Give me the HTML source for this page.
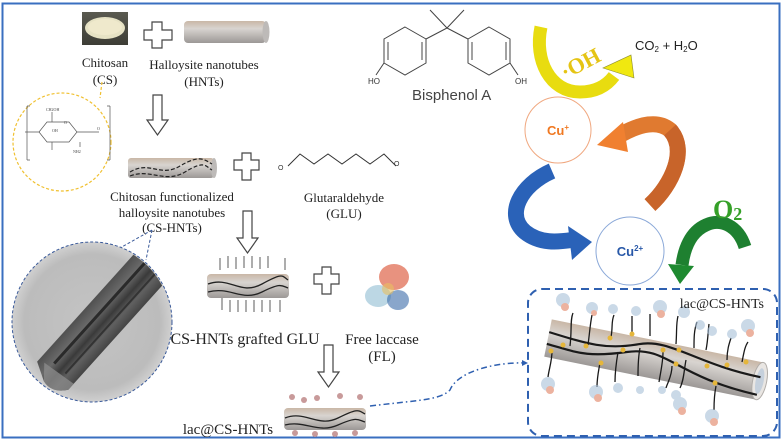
<!DOCTYPE html>
<html><head><meta charset="utf-8"><style>
html,body{margin:0;padding:0;background:#fff;}
svg{display:block;}
.s{font-family:"Liberation Serif",serif;fill:#222;}
.a{font-family:"Liberation Sans",sans-serif;}
</style></head><body>
<svg width="784" height="443" viewBox="0 0 784 443" xmlns="http://www.w3.org/2000/svg">
<defs>
<linearGradient id="tube" x1="0" y1="0" x2="0" y2="1">
<stop offset="0" stop-color="#c9b7a6"/><stop offset="0.35" stop-color="#d8d4d0"/><stop offset="1" stop-color="#9c9896"/></linearGradient>
<radialGradient id="tem" cx="0.5" cy="0.5" r="0.5"><stop offset="0" stop-color="#c4c4c4"/><stop offset="0.85" stop-color="#bcbcbc"/><stop offset="1" stop-color="#d0d0d0"/></radialGradient>
<linearGradient id="rod" x1="0" y1="0" x2="0" y2="1"><stop offset="0" stop-color="#505050"/><stop offset="0.3" stop-color="#6a6a6a"/><stop offset="0.55" stop-color="#3a3a3a"/><stop offset="0.75" stop-color="#606060"/><stop offset="1" stop-color="#444"/></linearGradient>
<linearGradient id="photo" x1="0" y1="0" x2="0" y2="1"><stop offset="0" stop-color="#5a5a50"/><stop offset="1" stop-color="#3d3d36"/></linearGradient>
<clipPath id="temc"><circle cx="92" cy="322" r="79"/></clipPath>
</defs>
<rect x="0" y="0" width="784" height="443" fill="#fff"/>
<rect x="2.5" y="3.5" width="777" height="434" fill="none" stroke="#3a6fc0" stroke-width="2"/>

<rect x="82" y="12" width="46" height="33" fill="url(#photo)"/>
<ellipse cx="105" cy="28" rx="20" ry="11" fill="#e6e2c4"/>
<ellipse cx="105" cy="27" rx="17" ry="8" fill="#efe9cc"/>
<path d="M152 22h10v8h10v10h-10v8h-10v-8h-8v-10h8z" fill="#fff" stroke="#444" stroke-width="1.2"/>
<rect x="184" y="21" width="82" height="22" rx="4" fill="url(#tube)"/>
<ellipse cx="266" cy="32" rx="3.5" ry="11" fill="#bdbab8"/>
<text x="105" y="67" class="s" font-size="13" text-anchor="middle">Chitosan</text>
<text x="105" y="84" class="s" font-size="13" text-anchor="middle">(CS)</text>
<text x="204" y="69" class="s" font-size="13" text-anchor="middle">Halloysite nanotubes</text>
<text x="204" y="86" class="s" font-size="13" text-anchor="middle">(HNTs)</text>

<path d="M153 95h9v25h6l-10.5 15l-10.5-15h6z" fill="#fff" stroke="#444" stroke-width="1.2"/>
<path d="M243 211h9v27h6l-10.5 15l-10.5-15h6z" fill="#fff" stroke="#444" stroke-width="1.2"/>
<path d="M324 345h9v27h6l-10.5 15l-10.5-15h6z" fill="#fff" stroke="#444" stroke-width="1.2"/>

<path d="M102 82 L100 98" stroke="#f0c030" stroke-width="1.2" stroke-dasharray="3,2" fill="none"/>
<circle cx="62" cy="142" r="49" fill="none" stroke="#f0c030" stroke-width="1.2" stroke-dasharray="3,2"/>
<g stroke="#555" stroke-width="0.7" fill="none">
<path d="M27 106v54M30 106h-3M30 160h-3M110 106v54M107 106h3M107 160h3"/>
<path d="M25 132h14l8-10h22l8 10l-8 10h-22l-8-10M77 132h22M52 112v10M52 142v8M80 142v5"/>
</g>
<g font-family="Liberation Serif,serif" font-size="4" fill="#444">
<text x="46" y="111">CH2OH</text><text x="64" y="124">O</text><text x="52" y="132">OH</text><text x="73" y="153">NH2</text><text x="97" y="130">O</text>
</g>

<rect x="128" y="158" width="86" height="20" rx="3" fill="url(#tube)"/>
<ellipse cx="214" cy="168" rx="3" ry="10" fill="#bdbab8"/>
<path d="M130 172 C150 160 160 178 180 166 S205 160 212 164" stroke="#222" stroke-width="1.2" fill="none" stroke-dasharray="4,2"/>
<path d="M130 176 C150 168 165 184 185 172 S205 166 212 170" stroke="#222" stroke-width="1.2" fill="none" stroke-dasharray="4,2"/>
<path d="M234 160h8v-7h9v7h8v10h-8v10h-9v-10h-8z" fill="#fff" stroke="#444" stroke-width="1.2"/>
<path d="M288 166l12-12l14 10l14-10l14 10l14-10l14 10l14-10l12 12" stroke="#333" stroke-width="1" fill="none"/>
<text x="278" y="170" class="a" font-size="7" fill="#333">O</text>
<text x="394" y="166" class="a" font-size="7" fill="#333">O</text>
<text x="172" y="201" class="s" font-size="13" text-anchor="middle">Chitosan functionalized</text>
<text x="172" y="217" class="s" font-size="13" text-anchor="middle">halloysite nanotubes</text>
<text x="172" y="232" class="s" font-size="13" text-anchor="middle">(CS-HNTs)</text>
<text x="344" y="202" class="s" font-size="13" text-anchor="middle">Glutaraldehyde</text>
<text x="344" y="218" class="s" font-size="13" text-anchor="middle">(GLU)</text>

<!-- TEM -->
<path d="M152 230 L120 248 M152 230 L146 260" stroke="#3a5a9a" stroke-width="1" stroke-dasharray="3,2" fill="none"/>
<circle cx="92" cy="322" r="80" fill="url(#tem)"/>
<g clip-path="url(#temc)">
<g transform="translate(52,375) rotate(-48)">
<path d="M0 -20 L175 -20 L175 22 L0 22 Q-14 12 -10 -2 Z" fill="url(#rod)"/>
<path d="M-10 -2 Q-14 12 0 22 L8 22 L4 -14 Z" fill="#8a8a8a" opacity="0.8"/>
<path d="M10 -6 L175 -6" stroke="#2a2a2a" stroke-width="3"/>
<path d="M10 9 L175 9" stroke="#333" stroke-width="2"/>
</g>
</g>
<circle cx="92" cy="322" r="80" fill="none" stroke="#3a5a9a" stroke-width="1" stroke-dasharray="3,2"/>

<g stroke="#333" stroke-width="0.8">
<path d="M220 270v-12M228 268v-12M236 269v-12M244 268v-12M252 268v-12M260 269v-12M268 268v-12M285 270v-12M222 298v12M230 300v12M238 300v12M246 300v12M254 300v12M262 300v12M270 300v12M280 300v12"/>
</g>
<rect x="207" y="274" width="82" height="24" rx="4" fill="url(#tube)"/>
<path d="M208 284 C230 276 240 296 262 284 S282 276 288 280" stroke="#222" stroke-width="1.3" fill="none"/>
<path d="M208 292 C230 286 242 302 262 292 S282 286 288 288" stroke="#222" stroke-width="1.3" fill="none"/>
<path d="M314 274h8v-7h9v7h8v10h-8v10h-9v-10h-8z" fill="#fff" stroke="#444" stroke-width="1.2"/>
<g>
<ellipse cx="394" cy="277" rx="15" ry="13" fill="#d84a2a" opacity="0.6"/>
<ellipse cx="378" cy="296" rx="13" ry="11" fill="#9fc6d8" opacity="0.7"/>
<ellipse cx="398" cy="300" rx="11" ry="10" fill="#3a6aa8" opacity="0.6"/>
<ellipse cx="388" cy="289" rx="6" ry="6" fill="#e8c060" opacity="0.6"/>
</g>
<text x="245" y="344" class="s" font-size="16" text-anchor="middle">CS-HNTs grafted GLU</text>
<text x="382" y="344" class="s" font-size="15" text-anchor="middle">Free laccase</text>
<text x="382" y="361" class="s" font-size="15" text-anchor="middle">(FL)</text>

<g fill="#c89a9a"><circle cx="292" cy="397" r="3"/><circle cx="304" cy="400" r="3"/><circle cx="317" cy="398" r="3"/><circle cx="340" cy="396" r="3"/><circle cx="360" cy="397" r="3"/><circle cx="295" cy="433" r="3"/><circle cx="315" cy="434" r="3"/><circle cx="335" cy="434" r="3"/><circle cx="355" cy="433" r="3"/></g>
<rect x="284" y="408" width="82" height="22" rx="4" fill="url(#tube)"/>
<path d="M285 418 C305 410 318 428 338 418 S358 410 365 414" stroke="#222" stroke-width="1.3" fill="none"/>
<path d="M285 425 C305 420 318 434 338 425 S358 420 365 422" stroke="#222" stroke-width="1.3" fill="none"/>
<text x="228" y="434" class="s" font-size="15" text-anchor="middle">lac@CS-HNTs</text>
<path d="M370 406 C420 400 440 400 450 390 C458 370 500 362 524 363" stroke="#2f60b0" stroke-width="1.5" fill="none" stroke-dasharray="6,3,1.5,3"/>
<path d="M528 363 l-6 -3 v6z" fill="#2f60b0"/>

<rect x="528" y="289" width="249" height="147" rx="14" fill="none" stroke="#2f60b0" stroke-width="2" stroke-dasharray="8,5"/>
<g transform="translate(548,338) rotate(11.5)">
<rect x="0" y="-19" width="216" height="38" fill="url(#tube)"/>
<ellipse cx="216" cy="0" rx="7" ry="19" fill="#e9e6e3" stroke="#b0aca8"/>
<ellipse cx="216" cy="0" rx="4" ry="13" fill="#c5d0dc"/>
<path d="M0 -6 C40 -2 60 0 90 -12 S150 -4 216 -4" stroke="#1a1a1a" stroke-width="2.2" fill="none"/>
<path d="M0 4 C30 6 40 10 80 -4 S130 10 216 12" stroke="#1a1a1a" stroke-width="2.2" fill="none" transform="translate(0,2)"/>
</g>
<g stroke="#1a1a1a" stroke-width="1.3" fill="none">
<path d="M570 346 C572 330 570 320 573 313M588 345 C590 330 590 325 592 315M611 337 c2-10 0-15 3-22M632 334 c0-10 0-12 0-18M650 336 c0-10 0-14 0-22M676 344 c1-14 0-20 2-28M694 348 c0-10 0-18 3-26M706 350 c2-10 2-18 3-26M727 360 c0-10 2-16 4-22M742 362 c2-10 3-16 6-20"/>
<path d="M552 351 c0 10-3 18-4 26M600 363 c-2 10-3 18-3 24M618 352 c-2 12-3 20-3 30M640 348 c-2 10-2 20-2 28M663 352 c0 10-2 18-4 30M672 366 c0 10-5 18-6 22M686 360 c-2 10-2 20-6 28M716 386 c-2 10-2 18-2 24"/>
</g>
<g fill="#e5b63a"><circle cx="563" cy="345" r="2.5"/><circle cx="586" cy="346" r="2.5"/><circle cx="610" cy="338" r="2.5"/><circle cx="632" cy="334" r="2.5"/><circle cx="679" cy="350" r="2.5"/><circle cx="707" cy="366" r="2.5"/><circle cx="727" cy="365" r="2.5"/><circle cx="746" cy="362" r="2.5"/><circle cx="551" cy="351" r="2.5"/><circle cx="601" cy="363" r="2.5"/><circle cx="623" cy="350" r="2.5"/><circle cx="663" cy="350" r="2.5"/><circle cx="676" cy="364" r="2.5"/><circle cx="715" cy="383" r="2.5"/></g>
<g opacity="0.6">
<g fill="#a8c0d8"><circle cx="563" cy="300" r="7"/><circle cx="592" cy="308" r="6"/><circle cx="613" cy="309" r="5"/><circle cx="636" cy="311" r="5"/><circle cx="660" cy="307" r="7"/><circle cx="684" cy="312" r="6"/><circle cx="700" cy="325" r="5"/><circle cx="712" cy="331" r="5"/><circle cx="732" cy="334" r="5"/><circle cx="748" cy="326" r="7"/><circle cx="548" cy="384" r="7"/><circle cx="596" cy="392" r="7"/><circle cx="618" cy="388" r="5"/><circle cx="640" cy="390" r="4"/><circle cx="662" cy="390" r="4"/><circle cx="676" cy="395" r="5"/><circle cx="680" cy="404" r="7"/><circle cx="712" cy="416" r="7"/></g>
<g fill="#e08060"><circle cx="565" cy="307" r="4"/><circle cx="594" cy="313" r="3"/><circle cx="661" cy="314" r="4"/><circle cx="750" cy="333" r="4"/><circle cx="550" cy="390" r="4"/><circle cx="598" cy="398" r="4"/><circle cx="682" cy="411" r="4"/><circle cx="714" cy="422" r="4"/></g>
</g>
<text x="764" y="308" class="s" font-size="14" text-anchor="end">lac@CS-HNTs</text>

<g stroke="#444" stroke-width="1" fill="none">
<polygon points="405,27 426,39 426,63 405,75 384,63 384,39"/>
<polygon points="489,27 510,39 510,63 489,75 468,63 468,39"/>
<path d="M388 42v18M506 42v18M472 42v18M422 42v18"/>
<path d="M426 39 L447 28 L468 39 M447 28 L430 10 M447 28 L464 10 M384 63 L376 75 M510 63 L518 75"/>
</g>
<text x="368" y="84" class="a" font-size="8" fill="#333">HO</text>
<text x="515" y="84" class="a" font-size="8" fill="#333">OH</text>
<text x="412" y="100" class="a" font-size="15" fill="#444">Bisphenol A</text>

<path d="M541 27 C534 60 550 92 580 92 C598 92 608 84 614 76" stroke="#e8dc10" stroke-width="13" fill="none"/>
<polygon points="634,78 631,55 603,68" fill="#f0e810" stroke="#8a8a30" stroke-width="0.6"/>
<text x="584" y="70" font-family="Liberation Serif,serif" font-weight="bold" font-size="22" fill="#e5c414" transform="rotate(-28 584 70)" text-anchor="middle">·OH</text>
<text x="635" y="50" class="a" font-size="13" fill="#222">CO<tspan font-size="8" dy="2">2</tspan><tspan dy="-2"> + H</tspan><tspan font-size="8" dy="2">2</tspan><tspan dy="-2">O</tspan></text>

<path d="M650 205 C672 185 688 150 670 130 C658 120 640 124 622 134" stroke="#e07a30" stroke-width="16" fill="none"/>
<path d="M650 205 C672 185 688 150 670 130" stroke="#c8642a" stroke-width="16" fill="none"/>
<polygon points="597,145 623,122 628,152" fill="#f08030"/>

<path d="M552 171 C520 185 505 215 525 232 C540 244 558 242 572 240" stroke="#2a62b8" stroke-width="16" fill="none"/>
<polygon points="592,242 568,226 572,260" fill="#2a62b8"/>

<path d="M745 247 C738 225 720 218 706 225 C690 232 684 250 682 265" stroke="#1e8030" stroke-width="13" fill="none"/>
<polygon points="680,284 668,264 694,266" fill="#1e8a30"/>
<text x="713" y="218" font-family="Liberation Serif,serif" font-weight="bold" font-size="26" fill="#35a028">O<tspan font-size="18" dy="2">2</tspan></text>

<circle cx="558" cy="130" r="33" fill="#fff" stroke="#f0a880" stroke-width="1"/>
<text x="558" y="135" class="a" font-size="13" font-weight="bold" fill="#f07820" text-anchor="middle">Cu<tspan font-size="8" dy="-5">+</tspan></text>
<circle cx="630" cy="251" r="34" fill="#fff" stroke="#8aa8d8" stroke-width="1"/>
<text x="630" y="256" class="a" font-size="13" font-weight="bold" fill="#2858a8" text-anchor="middle">Cu<tspan font-size="8" dy="-5">2+</tspan></text>
</svg>
</body></html>
